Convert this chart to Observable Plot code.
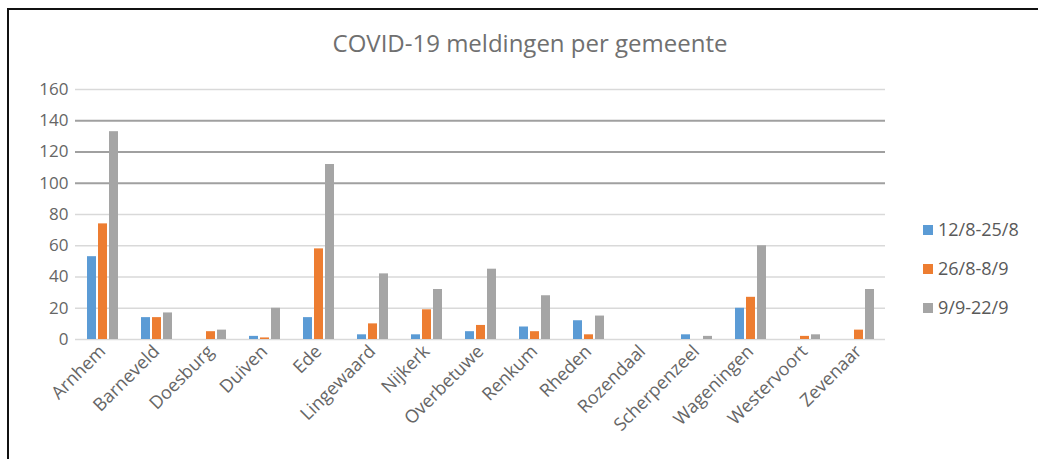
<!DOCTYPE html>
<html><head><meta charset="utf-8">
<script src="https://cdn.jsdelivr.net/npm/d3@7"></script>
<script src="https://cdn.jsdelivr.net/npm/@observablehq/plot@0.6"></script>
<style>
body{margin:0;background:#fff;}
#wrap{position:relative;width:1038px;height:459px;overflow:hidden;font-family:'Open Sans',sans-serif;background:#fff;}
#frame{position:absolute;left:7px;top:8px;width:1100px;height:500px;border-left:2px solid #111;border-top:2px solid #111;}
#title{position:absolute;left:10px;width:1040px;top:26px;text-align:center;font-size:24px;color:#707070;white-space:nowrap;}
#chart{position:absolute;left:0;top:0;}
#legend{position:absolute;left:923px;top:210px;font-size:18px;color:#595959;line-height:39px;}
#legend .it{display:flex;align-items:center;white-space:nowrap;}
#legend .sw{width:10px;height:10px;margin-right:5px;}
</style></head>
<body>
<div id="wrap"><div id="frame"></div><div id="chart"></div><div id="title">COVID-19 meldingen per gemeente</div><div id="legend"></div></div>
<script>
const municipalities = ["Arnhem","Barneveld","Doesburg","Duiven","Ede","Lingewaard","Nijkerk","Overbetuwe","Renkum","Rheden","Rozendaal","Scherpenzeel","Wageningen","Westervoort","Zevenaar"];
const series = ["12/8-25/8","26/8-8/9","9/9-22/9"];
const period1 = [53,14,0,2,14,3,3,5,8,12,0,3,20,0,0];
const period2 = [74,14,5,1,58,10,19,9,5,3,0,0,27,2,6];
const period3 = [133,17,6,20,112,42,32,45,28,15,0,2,60,3,32];
const yTicks = [0,20,40,60,80,100,120,140,160];
const colors = ["#5B9BD5","#ED7D31","#A5A5A5"];

const values = [period1, period2, period3];
const data = municipalities.flatMap((m,i)=>series.map((s,j)=>({m, s, v: values[j][i]})));
const darkTicks = yTicks.filter(t => t >= 100 && t <= 140);
const lightTicks = yTicks.filter(t => !(t >= 100 && t <= 140));

const plot = Plot.plot({
  width: 1038, height: 459,
  marginLeft: 73, marginRight: 151, marginTop: 89, marginBottom: 120,
  style: {fontFamily: "'Open Sans', sans-serif", fontSize: "17px", color: "#666666", background: "transparent", overflow: "visible"},
  fx: {domain: municipalities, padding: 0, label: null, tickRotate: -45, tickSize: 0, tickPadding: 9},
  x: {domain: series, axis: null, paddingInner: 0.2, paddingOuter: 0.86},
  y: {domain: [0,160], ticks: yTicks, tickSize: 0, tickPadding: 7, label: null},
  color: {domain: series, range: colors},
  marks: [
    Plot.ruleY(lightTicks, {stroke: "#d9d9d9", strokeWidth: 1.5}),
    Plot.ruleY(darkTicks, {stroke: "#a0a0a0", strokeWidth: 2}),
    Plot.barY(data, {fx: "m", x: "s", y: "v", fill: "s"})
  ]
});
plot.querySelectorAll("g[aria-label='fx-axis tick label'] text, g[aria-label='fx-axis tick label']").forEach(el => el.setAttribute("font-size", "18px"));
document.getElementById("chart").appendChild(plot);

const leg = document.getElementById("legend");
series.forEach((s,i)=>{
  const it = document.createElement("div"); it.className = "it";
  const sw = document.createElement("span"); sw.className = "sw"; sw.style.background = colors[i];
  const tx = document.createElement("span"); tx.textContent = s;
  it.appendChild(sw); it.appendChild(tx); leg.appendChild(it);
});
</script>
</body></html>
